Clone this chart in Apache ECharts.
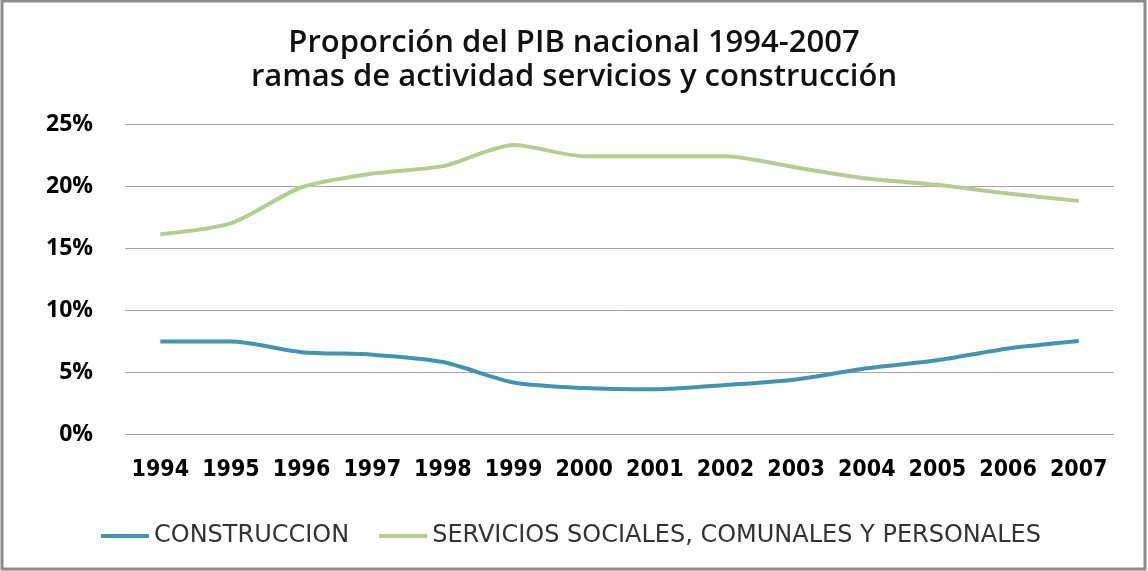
<!DOCTYPE html>
<html>
<head>
<meta charset="utf-8">
<script src="https://cdn.jsdelivr.net/npm/echarts@6/dist/echarts.min.js"></script>
<style>
  html, body { margin: 0; padding: 0; background: #fff; }
  #chartDiv { width: 1148px; height: 571px; }
</style>
</head>
<body>
<div id="chartDiv"></div>
<script>
var years = ["1994", "1995", "1996", "1997", "1998", "1999", "2000", "2001", "2002", "2003", "2004", "2005", "2006", "2007"];
var construccion = [7.45, 7.45, 6.6, 6.4, 5.8, 4.15, 3.7, 3.6, 3.95, 4.4, 5.3, 5.95, 6.9, 7.5];
var servicios = [16.1, 17.0, 19.9, 21.0, 21.6, 23.3, 22.4, 22.4, 22.4, 21.5, 20.6, 20.1, 19.4, 18.8];

var myChart = echarts.init(document.getElementById("chartDiv"));

var option = {
  backgroundColor: "#fff",
  animation: false,
  graphic: [{
    type: "rect",
    shape: { x: 2, y: 1, width: 1143, height: 568 },
    style: { fill: "none", stroke: "#8c8c8c", lineWidth: 3 },
    silent: true
  }],
  title: {
    text: "Proporción del PIB nacional 1994-2007\nramas de actividad servicios y construcción",
    left: "center",
    top: 21,
    textStyle: {
      fontFamily: "Open Sans",
      fontWeight: 600,
      fontSize: 31,
      lineHeight: 34,
      color: "#111"
    }
  },
  legend: {
    bottom: 18,
    left: 96,
    icon: "rect",
    itemWidth: 48,
    itemHeight: 4,
    itemGap: 30,
    textStyle: { fontFamily: "DejaVu Sans", fontSize: 24, color: "#333" },
    data: ["CONSTRUCCION", "SERVICIOS SOCIALES, COMUNALES Y PERSONALES"]
  },
  grid: { left: 125, right: 34, top: 124, bottom: 137 },
  xAxis: {
    type: "category",
    data: years,
    axisLine: { show: false },
    axisTick: { show: false },
    axisLabel: {
      interval: 0,
      margin: 25,
      fontFamily: "DejaVu Sans Condensed",
      fontWeight: "bold",
      fontSize: 23,
      color: "#000"
    }
  },
  yAxis: {
    type: "value",
    min: 0,
    max: 25,
    interval: 5,
    axisLabel: {
      formatter: "{value}%",
      margin: 32,
      fontFamily: "Open Sans",
      fontWeight: 700,
      fontSize: 23,
      color: "#000"
    },
    splitLine: { lineStyle: { color: "#a6a6a6", width: 1 } }
  },
  series: [
    {
      name: "CONSTRUCCION",
      type: "line",
      data: construccion,
      smooth: 0.25,
      symbol: "none",
      itemStyle: { color: "#4196ae" },
      lineStyle: { color: "#4196ae", width: 4 }
    },
    {
      name: "SERVICIOS SOCIALES, COMUNALES Y PERSONALES",
      type: "line",
      data: servicios,
      smooth: 0.25,
      symbol: "none",
      itemStyle: { color: "#b4cd91" },
      lineStyle: { color: "#b4cd91", width: 4 }
    }
  ]
};

myChart.setOption(option);

window.addEventListener("resize", function () {
  myChart.resize();
});
</script>
</body>
</html>
